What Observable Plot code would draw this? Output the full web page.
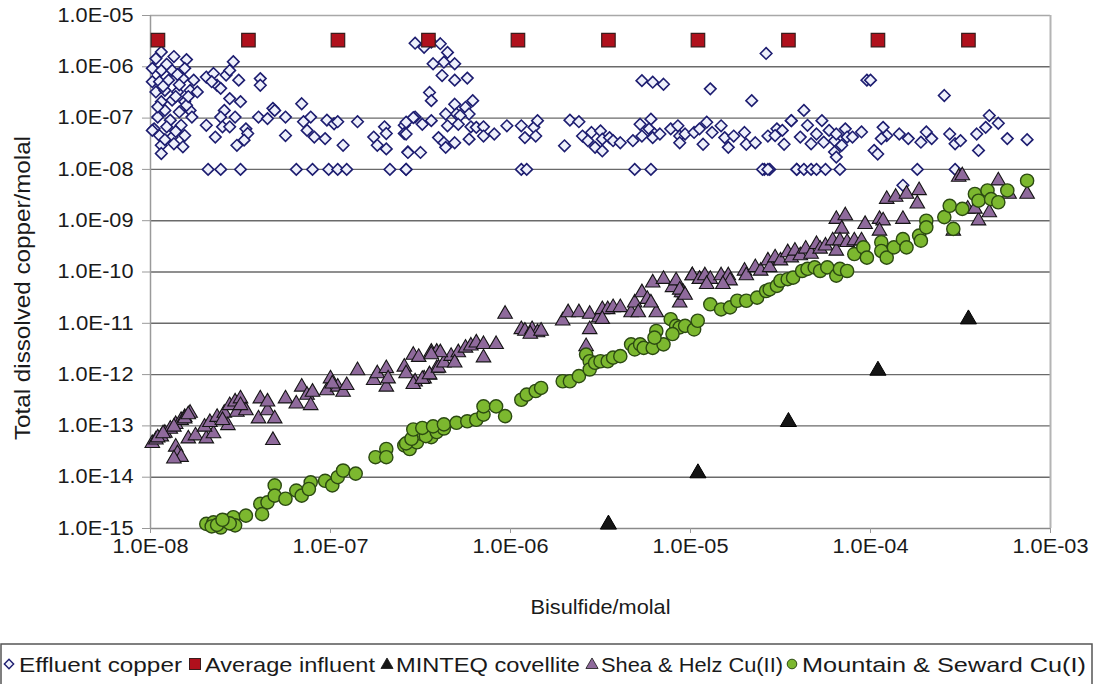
<!DOCTYPE html>
<html>
<head>
<meta charset="utf-8">
<script src="https://cdn.jsdelivr.net/npm/d3@7"></script>
<script src="https://cdn.jsdelivr.net/npm/@observablehq/plot@0.6"></script>
<style>
  html, body { margin: 0; padding: 0; background: #fff; }
  #chart { position: relative; width: 1093px; }
  #legend { display: block; }
</style>
</head>
<body>
<div id="chart"></div>
<script>
// ---------- axis ticks ----------
const xTicks = [1e-8, 1e-7, 1e-6, 1e-5, 1e-4, 1e-3];
const xTickLabels = ["1.0E-08", "1.0E-07", "1.0E-06", "1.0E-05", "1.0E-04", "1.0E-03"];
const yTicks = [1e-15, 1e-14, 1e-13, 1e-12, 1e-11, 1e-10, 1e-9, 1e-8, 1e-7, 1e-6, 1e-5];
const yTickLabels = ["1.0E-15", "1.0E-14", "1.0E-13", "1.0E-12", "1.0E-11", "1.0E-10", "1.0E-09", "1.0E-08", "1.0E-07", "1.0E-06", "1.0E-05"];
const xLabel = "Bisulfide/molal";
const yLabel = "Total dissolved copper/molal";

// ---------- series names ----------
const seriesNames = ["Effluent copper", "Average influent", "MINTEQ covellite", "Shea & Helz Cu(II)", "Mountain & Seward Cu(I)"];

// ---------- Average influent (molal) ----------
const influentX = [1.1e-8, 3.5e-8, 1.1e-7, 3.5e-7, 1.1e-6, 3.5e-6, 1.1e-5, 3.5e-5, 1.1e-4, 3.5e-4];
const influentY = [3.3e-6, 3.3e-6, 3.3e-6, 3.3e-6, 3.3e-6, 3.3e-6, 3.3e-6, 3.3e-6, 3.3e-6, 3.3e-6];

// ---------- MINTEQ covellite (molal) ----------
const minteqX = [3.5e-6, 1.1e-5, 3.5e-5, 1.1e-4, 3.5e-4];
const minteqY = [1.2e-15, 1.2e-14, 1.2e-13, 1.2e-12, 1.2e-11];

// ---------- Effluent copper: [log10 bisulfide, log10 copper] ----------
const effluentLog = [
  [-7.94,-5.71],[-7.97,-5.84],[-7.87,-5.80],[-7.80,-5.86],[-7.99,-6.03],[-7.94,-6.07],[-7.88,-6.07],[-7.81,-6.03],
  [-7.99,-6.29],[-7.95,-6.29],[-7.90,-6.26],[-7.82,-6.23],[-7.76,-6.26],[-7.97,-6.49],[-7.92,-6.46],[-7.85,-6.49],
  [-7.78,-6.46],[-7.94,-6.68],[-7.88,-6.65],[-7.81,-6.68],[-7.92,-6.85],[-7.84,-6.88],[-7.78,-6.85],[-7.77,-6.98],
  [-7.96,-6.98],[-7.89,-7.04],[-7.98,-7.21],[-7.91,-7.17],[-7.83,-7.14],[-7.95,-7.34],[-7.88,-7.37],[-7.81,-7.34],
  [-7.94,-7.53],[-7.87,-7.50],[-7.82,-7.56],[-7.94,-7.69],[-7.99,-7.24],[-7.74,-6.49],
  [-7.91,-5.95],[-7.85,-6.15],[-7.93,-6.38],[-7.86,-6.58],[-7.80,-6.75],[-7.96,-6.78],[-7.86,-7.26],[-7.92,-7.42],
  [-7.84,-6.35],[-7.79,-6.58],
  [-7.69,-6.20],[-7.65,-6.13],[-7.63,-6.36],[-7.66,-6.29],[-7.61,-6.42],[-7.58,-6.16],[-7.56,-6.07],[-7.54,-5.90],
  [-7.51,-6.26],[-7.56,-6.62],[-7.50,-6.68],[-7.59,-6.85],[-7.61,-6.98],[-7.53,-6.98],[-7.69,-7.14],[-7.64,-7.37],
  [-7.60,-7.17],[-7.56,-7.17],[-7.47,-7.21],[-7.46,-7.30],[-7.52,-7.53],[-7.48,-7.43],[-7.39,-6.23],[-7.39,-6.36],
  [-7.40,-6.98],[-7.35,-7.01],[-7.32,-6.81],[-7.31,-6.85],[-7.25,-6.98],[-7.25,-7.34],[-7.16,-6.72],[-7.15,-7.07],
  [-7.11,-6.98],[-7.13,-7.24],[-7.09,-7.37],[-7.03,-7.40],[-7.02,-7.04],[-6.98,-7.11],[-6.96,-7.07],[-6.93,-7.53],
  [-6.85,-7.07],[-6.76,-7.37],[-6.70,-7.17],[-6.69,-7.30],[-6.74,-7.53],[-6.69,-7.60],[-6.59,-7.14],[-6.59,-7.30],
  [-6.57,-7.66],[-6.53,-6.98],[-6.53,-5.54],
  [-7.68,-8],[-7.61,-8],[-7.50,-8],[-7.19,-8],[-7.10,-8],[-7.01,-8],[-6.96,-8],[-6.91,-8],[-6.67,-8],[-6.58,-8],
  [-6.48,-5.62],[-6.44,-5.52],[-6.39,-5.55],[-6.35,-5.72],[-6.43,-5.94],[-6.37,-5.91],[-6.31,-5.94],[-6.38,-6.17],
  [-6.31,-6.26],[-6.24,-6.22],[-6.45,-6.50],[-6.44,-6.66],[-6.31,-6.73],[-6.25,-6.79],[-6.21,-6.66],[-6.30,-6.92],
  [-6.23,-6.92],[-6.54,-6.99],[-6.36,-6.92],[-6.28,-6.95],[-6.44,-7.05],[-6.58,-7.08],[-6.49,-7.12],[-6.35,-7.15],
  [-6.29,-7.12],[-6.22,-7.17],[-6.19,-7.18],[-6.15,-7.17],[-6.58,-7.31],[-6.40,-7.38],[-6.37,-7.48],[-6.31,-7.48],
  [-6.36,-7.57],[-6.23,-7.41],[-6.15,-7.35],[-6.09,-7.31],[-6.57,-7.67],[-6.50,-7.67],[-6.02,-7.15],[-5.94,-7.15],
  [-5.87,-7.18],[-5.85,-7.05],[-5.92,-7.38],[-5.86,-7.35],[-5.70,-7.54],[-5.67,-7.04],[-5.62,-7.07],[-5.60,-7.35],
  [-5.57,-7.44],[-5.55,-7.28],[-5.50,-7.25],[-5.49,-7.41],[-5.53,-7.57],[-5.49,-7.64],[-5.45,-7.38],[-5.43,-7.44],
  [-5.39,-7.48],[-5.32,-7.44],[-5.28,-7.12],[-5.22,-7.02],[-5.23,-7.21],[-5.20,-7.31],[-5.27,-7.35],[-5.21,-7.38],
  [-5.17,-7.31],[-5.11,-7.21],[-5.07,-7.15],[-5.06,-7.35],[-5.03,-7.31],[-5.06,-7.48],[-4.98,-7.28],[-4.95,-7.21],
  [-4.93,-7.51],[-4.91,-7.08],[-4.88,-7.28],[-4.83,-7.15],[-4.81,-7.38],[-4.79,-7.57],[-4.76,-7.35],[-4.70,-7.28],
  [-4.69,-7.51],[-4.64,-7.48],[-4.57,-7.35],[-4.52,-7.21],[-4.48,-7.51],[-4.44,-7.05],
  [-5.27,-6.27],[-5.21,-6.30],[-5.15,-6.34],[-4.89,-6.43],[-4.66,-6.66],[-4.58,-5.74],
  [-6.58,-8],[-5.94,-8],[-5.91,-8],[-5.31,-8],[-5.22,-8],[-4.59,-8],[-4.56,-8],[-4.41,-8],
  [-4.02,-6.26],[-4.00,-6.26],[-3.59,-6.56],[-4.37,-6.85],[-3.34,-6.95],[-3.29,-7.10],
  [-4.35,-7.14],[-4.30,-7.31],[-4.27,-7.05],[-4.23,-7.24],[-4.20,-7.44],[-4.19,-7.31],[-4.16,-7.53],[-4.14,-7.21],
  [-4.13,-7.37],[-4.10,-7.37],[-4.05,-7.27],[-4.20,-7.66],[-4.19,-7.76],[-3.98,-7.63],[-3.96,-7.70],[-3.93,-7.18],
  [-3.91,-7.34],[-3.94,-7.40],[-3.84,-7.31],[-3.79,-7.40],[-3.72,-7.47],[-3.69,-7.27],[-3.66,-7.40],[-3.56,-7.31],
  [-3.53,-7.50],[-3.50,-7.44],[-3.41,-7.31],[-3.40,-7.63],[-3.36,-7.18],[-3.24,-7.40],[-3.13,-7.42],
  [-4.39,-7.37],[-4.33,-7.50],[-4.26,-7.47],[-4.44,-7.05],[-4.49,-7.24],[-4.53,-7.34],
  [-4.60,-8],[-4.57,-8],[-4.41,-8],[-4.37,-8],[-4.33,-8],[-4.30,-8],[-4.25,-8],[-4.17,-8],[-3.74,-8],[-3.53,-8],
  [-3.82,-8.31]
];

// ---------- Shea & Helz Cu(II): [log10 bisulfide, log10 copper] ----------
const sheaLog = [
  [-7.99,-13.34],[-7.97,-13.27],[-7.94,-13.21],[-7.92,-13.14],[-7.89,-13.06],[-7.86,-12.97],[-7.83,-12.89],[-7.81,-12.83],
  [-7.78,-12.75],[-7.96,-13.23],[-7.93,-13.15],[-7.87,-13.02],[-7.81,-12.86],[-7.79,-12.78],
  [-7.86,-13.41],[-7.85,-13.54],[-7.83,-13.61],[-7.87,-13.64],
  [-7.79,-13.25],[-7.75,-13.19],[-7.69,-13.25],[-7.65,-13.15],[-7.70,-13.02],[-7.67,-12.93],[-7.63,-12.83],[-7.59,-12.75],
  [-7.57,-12.99],[-7.60,-12.89],[-7.56,-12.60],[-7.53,-12.53],[-7.50,-12.47],[-7.52,-12.73],[-7.47,-12.70],[-7.50,-12.60],
  [-7.39,-12.47],[-7.40,-12.86],[-7.35,-12.70],[-7.31,-12.86],[-7.32,-13.28],[-7.35,-12.53],
  [-7.25,-12.47],[-7.19,-12.57],[-7.16,-12.24],[-7.13,-12.40],[-7.10,-12.34],[-7.11,-12.60],
  [-7.02,-12.31],[-7.00,-12.08],[-6.96,-12.24],[-6.93,-12.34],[-6.91,-12.21],[-6.99,-12.18],
  [-6.85,-11.92],[-6.76,-12.11],[-6.74,-11.98],[-6.69,-12.24],[-6.69,-11.88],[-6.68,-12.08],[-6.59,-11.85],[-6.58,-11.98],
  [-6.54,-11.62],[-6.51,-11.66],[-6.53,-12.14],[-6.48,-12.08],[-6.44,-11.56],[-6.45,-12.01],[-6.41,-11.56],[-6.41,-11.88],
  [-6.54,-12.19],[-6.49,-12.09],[-6.45,-12.00],[-6.40,-11.87],[-6.37,-11.77],[-6.33,-11.64],[-6.29,-11.57],[-6.25,-11.48],
  [-6.22,-11.44],[-6.19,-11.38],[-6.15,-11.41],[-6.08,-11.41],[-6.15,-11.67],[-6.39,-11.57],[-6.44,-11.61],[-6.31,-11.77],
  [-6.03,-10.82],[-5.94,-11.12],[-5.92,-11.15],[-5.88,-11.12],[-5.85,-11.18],[-5.89,-11.21],[-5.83,-11.15],
  [-5.71,-10.95],[-5.68,-10.79],[-5.62,-10.79],[-5.56,-10.82],[-5.56,-11.12],[-5.51,-10.89],[-5.58,-11.45],
  [-5.49,-10.73],[-5.46,-10.73],[-5.43,-10.69],[-5.39,-10.69],[-5.49,-10.92],[-5.33,-10.79],[-5.31,-10.60],[-5.29,-10.79],
  [-5.27,-10.40],[-5.24,-10.53],[-5.21,-10.21],[-5.19,-10.79],[-5.22,-10.60],[-5.15,-10.14],[-5.10,-10.30],[-5.08,-10.17],
  [-5.06,-10.60],[-5.04,-10.40],[-4.99,-10.07],[-4.95,-10.14],
  [-5.05,-10.40],[-5.06,-10.35],[-5.03,-10.45],
  [-4.99,-10.07],[-4.95,-10.14],[-4.92,-10.07],[-4.89,-10.14],[-4.91,-10.24],[-4.83,-10.07],[-4.79,-10.07],[-4.78,-10.17],
  [-4.82,-10.24],[-4.70,-9.98],[-4.69,-10.07],[-4.64,-9.91],[-4.61,-9.98],[-4.57,-9.78],[-4.56,-9.91],[-4.53,-9.72],
  [-4.50,-9.78],[-4.46,-9.62],[-4.44,-9.72],[-4.42,-9.59],[-4.39,-9.68],[-4.36,-9.55],[-4.33,-9.65],[-4.30,-9.46],
  [-4.28,-9.55],[-4.25,-9.49],[-4.21,-9.39],[-4.19,-9.59],[-4.19,-8.97],[-4.14,-8.90],[-4.16,-9.16],[-4.17,-9.39],
  [-4.13,-9.42],[-4.09,-9.39],[-4.05,-9.39],[-4.03,-9.07],[-3.95,-8.97],[-3.93,-9.00],[-3.95,-9.20],[-3.91,-8.58],
  [-3.86,-8.54],[-3.82,-8.97],[-3.80,-8.48],[-3.73,-8.41],[-3.74,-8.67],[-3.51,-8.15],[-3.49,-8.12],[-3.46,-8.77],
  [-3.40,-9.00],[-3.42,-8.77],[-3.34,-8.84],[-3.29,-8.22],[-3.23,-8.48],[-3.13,-8.48],[-3.54,-9.20]
];

// ---------- Mountain & Seward Cu(I): [log10 bisulfide, log10 copper] ----------
const mountainLog = [
  [-7.69,-14.91],[-7.65,-14.88],[-7.61,-14.98],[-7.58,-14.85],[-7.54,-14.78],[-7.53,-14.94],[-7.47,-14.75],[-7.39,-14.52],
  [-7.38,-14.72],[-7.35,-14.49],[-7.31,-14.16],[-7.31,-14.36],[-7.25,-14.42],[-7.19,-14.26],[-7.16,-14.36],[-7.11,-14.10],
  [-7.12,-14.23],[-7.03,-14.07],[-6.99,-14.16],[-6.96,-14.00],[-6.93,-13.87],[-6.86,-13.93],[-6.75,-13.61],[-6.69,-13.45],
  [-6.69,-13.61],[-6.59,-13.38],[-6.56,-13.45],[-6.52,-13.32],[-6.50,-13.15],[-6.44,-13.22],[-6.43,-13.09],[-6.40,-13.06],
  [-7.66,-14.96],[-7.63,-14.93],[-7.56,-14.90],[-7.60,-14.83],
  [-6.58,-13.34],[-6.55,-13.25],[-6.47,-13.20],[-6.41,-13.12],[-6.37,-13.05],
  [-6.54,-13.07],[-6.49,-13.04],[-6.43,-13.01],[-6.37,-12.97],[-6.30,-12.94],[-6.24,-12.91],[-6.19,-12.88],[-6.15,-12.78],
  [-6.15,-12.62],[-6.08,-12.62],[-6.03,-12.81],[-5.94,-12.49],[-5.91,-12.39],[-5.86,-12.32],[-5.83,-12.26],[-5.71,-12.13],
  [-5.67,-12.13],[-5.62,-12.03],[-5.58,-11.61],[-5.56,-11.74],[-5.56,-11.90],[-5.53,-11.77],[-5.50,-11.74],[-5.46,-11.74],
  [-5.43,-11.67],[-5.39,-11.64],[-5.33,-11.41],[-5.31,-11.51],[-5.28,-11.41],[-5.26,-11.48],[-5.21,-11.48],[-5.19,-11.15],
  [-5.15,-11.41],[-5.11,-10.92],[-5.08,-11.05],[-5.06,-11.08],[-5.03,-11.05],[-4.98,-11.12],[-4.96,-10.95],[-5.10,-11.21],
  [-5.20,-11.28],
  [-4.89,-10.63],[-4.83,-10.73],[-4.78,-10.69],[-4.74,-10.56],[-4.69,-10.56],[-4.63,-10.50],[-4.58,-10.37],[-4.56,-10.34],
  [-4.52,-10.27],[-4.50,-10.17],[-4.46,-10.14],[-4.43,-10.11],[-4.38,-9.98],[-4.35,-9.94],[-4.31,-9.91],[-4.28,-9.98],
  [-4.24,-9.91],[-4.19,-10.07],[-4.17,-9.94],[-4.13,-9.98],[-4.09,-9.65],[-4.04,-9.52],[-4.02,-9.72],[-3.94,-9.42],
  [-3.94,-9.59],[-3.91,-9.72],[-3.87,-9.52],[-3.82,-9.36],[-3.80,-9.52],[-3.73,-9.29],[-3.72,-9.39],[-3.69,-9.00],
  [-3.69,-9.13],[-3.59,-8.93],[-3.56,-8.71],[-3.54,-9.16],[-3.49,-8.77],[-3.42,-8.48],[-3.40,-8.61],[-3.35,-8.41],
  [-3.33,-8.58],[-3.29,-8.64],[-3.24,-8.41],[-3.13,-8.22]
];

const toPts = arr => arr.map(([lx, ly]) => ({x: 10 ** lx, y: 10 ** ly}));
const effluent = toPts(effluentLog);
const shea = toPts(sheaLog);
const mountain = toPts(mountainLog);
const influent = influentX.map((x, i) => ({x, y: influentY[i]}));
const minteq = minteqX.map((x, i) => ({x, y: minteqY[i]}));

const labelFor = (ticks, labels) => d => {
  const i = ticks.findIndex(t => Math.abs(Math.log10(t) - Math.log10(d)) < 1e-6);
  return i >= 0 ? labels[i] : "";
};

const chart = Plot.plot({
  width: 1093,
  height: 640,
  marginLeft: 150,
  marginRight: 43,
  marginTop: 15,
  marginBottom: 112,
  style: {fontFamily: "'Liberation Sans', Arial, sans-serif", background: "#fff", color: "#1a1a1a", overflow: "visible"},
  x: {type: "log", domain: [1e-8, 1e-3]},
  y: {type: "log", domain: [1e-15, 1e-5]},
  marks: [
    Plot.ruleY(yTicks.slice(1, -1), {stroke: "#6a6a6a", strokeWidth: 1.4}),
    Plot.ruleY([1e-5], {stroke: "#a8a8a8", strokeWidth: 1.5}),
    Plot.ruleY([1e-15], {stroke: "#8a8a8a", strokeWidth: 1.4}),
    Plot.ruleX([1e-8], {stroke: "#9a9a9a", strokeWidth: 1.5}),
    Plot.ruleX([1e-3], {stroke: "#b4b4b4", strokeWidth: 2}),
    Plot.axisX({ticks: xTicks, tickFormat: labelFor(xTicks, xTickLabels), tickSize: 5, tickPadding: 6, stroke: "#999",
      fontSize: 19.5, label: null}),
    Plot.axisY({ticks: yTicks, tickFormat: labelFor(yTicks, yTickLabels), tickSize: 8, tickPadding: 9, stroke: "#999",
      fontSize: 19.5, label: null}),
    Plot.text([xLabel], {frameAnchor: "bottom", lineAnchor: "middle", dy: 79, fontSize: 21, fill: "#1a1a1a"}),
    Plot.text([yLabel], {frameAnchor: "left", textAnchor: "middle", lineAnchor: "middle", rotate: -90, dx: -128, dy: 16,
      fontSize: 22, fill: "#1a1a1a"}),
    Plot.dot(effluent, {x: "x", y: "y", symbol: "diamond2", r: 5.2, stroke: "#1d1d70", fill: "#eef0fb", strokeWidth: 1.6}),
    Plot.dot(influent, {x: "x", y: "y", symbol: "square", r: 7.6, fill: "#b0101c", stroke: "#3a1c1c", strokeWidth: 1.2}),
    Plot.dot(minteq, {x: "x", y: "y", symbol: "triangle", r: 6, fill: "#151515", stroke: "#000", strokeWidth: 1}),
    Plot.dot(shea, {x: "x", y: "y", symbol: "triangle", r: 5.4, fill: "#8f6a9c", stroke: "#151515", strokeWidth: 1.1}),
    Plot.dot(mountain, {x: "x", y: "y", symbol: "circle", r: 6.6, fill: "#7cb82f", stroke: "#2c4a12", strokeWidth: 1.4})
  ]
});
document.getElementById("chart").appendChild(chart);

// widen text to the reference's proportions (text stays real text)
chart.querySelectorAll("text").forEach(el => {
  const t = (el.textContent || "").trim();
  if (/^1\.0E/.test(t)) {
    el.setAttribute("textLength", "76");
    el.setAttribute("lengthAdjust", "spacingAndGlyphs");
  } else if (t.startsWith("Total dissolved")) {
    el.setAttribute("textLength", "304");
    el.setAttribute("lengthAdjust", "spacingAndGlyphs");
  } else if (t.startsWith("Bisulfide")) {
    el.setAttribute("textLength", "140");
    el.setAttribute("lengthAdjust", "spacingAndGlyphs");
  }
});

// ---------- legend (below the SVG) ----------
const legendItems = [
  {name: seriesNames[0], sym: "diamond", swatchX: 9, textX: 19, textW: 163},
  {name: seriesNames[1], sym: "square", swatchX: 195, textX: 205, textW: 170},
  {name: seriesNames[2], sym: "blacktri", swatchX: 387, textX: 396, textW: 184},
  {name: seriesNames[3], sym: "purpletri", swatchX: 592, textX: 601, textW: 182},
  {name: seriesNames[4], sym: "circle", swatchX: 792, textX: 802, textW: 284}
];
const leg = d3.select("#chart").append("svg")
  .attr("id", "legend").attr("width", 1093).attr("height", 44)
  .style("font-family", "'Liberation Sans', Arial, sans-serif");
leg.append("rect").attr("x", 1).attr("y", 4).attr("width", 1091).attr("height", 46)
  .attr("fill", "#fff").attr("stroke", "#555").attr("stroke-width", 1.5);
const cy = 24;
for (const it of legendItems) {
  const g = leg.append("g");
  if (it.sym === "diamond") {
    g.append("path").attr("d", d3.symbol(d3.symbolDiamond2, 55)()).attr("transform", `translate(${it.swatchX},${cy})`)
      .attr("fill", "#eef0fb").attr("stroke", "#1d1d70").attr("stroke-width", 1.4);
  } else if (it.sym === "square") {
    g.append("rect").attr("x", it.swatchX - 5.5).attr("y", cy - 5.5).attr("width", 11).attr("height", 11)
      .attr("fill", "#b0101c").attr("stroke", "#3a1c1c");
  } else if (it.sym === "blacktri" || it.sym === "purpletri") {
    g.append("path").attr("d", d3.symbol(d3.symbolTriangle, 64)()).attr("transform", `translate(${it.swatchX},${cy + 1})`)
      .attr("fill", it.sym === "blacktri" ? "#151515" : "#8f6a9c").attr("stroke", "#151515").attr("stroke-width", 0.8);
  } else {
    g.append("circle").attr("cx", it.swatchX).attr("cy", cy).attr("r", 4.8)
      .attr("fill", "#7cb82f").attr("stroke", "#2c4a12").attr("stroke-width", 1);
  }
  g.append("text").attr("x", it.textX).attr("y", cy + 7.5).attr("font-size", 21).attr("fill", "#1a1a1a")
    .attr("textLength", it.textW).attr("lengthAdjust", "spacingAndGlyphs").text(it.name);
}
</script>
</body>
</html>
